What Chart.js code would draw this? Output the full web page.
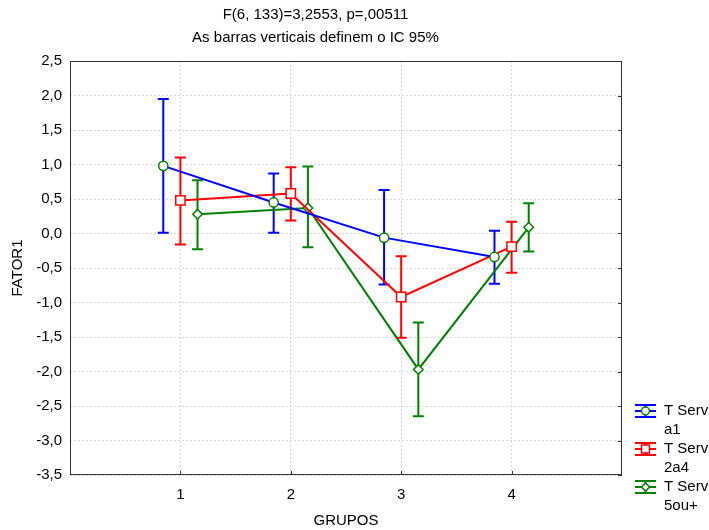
<!DOCTYPE html>
<html>
<head>
<meta charset="utf-8">
<script src="https://cdn.jsdelivr.net/npm/chart.js@4.4.1/dist/chart.umd.min.js"></script>
<style>
html, body { margin: 0; padding: 0; background: #fff; }
#wrap { width: 709px; height: 530px; }
</style>
</head>
<body>
<div id="wrap"><canvas id="grafico"></canvas></div>
<script>
const grupos = [1, 2, 3, 4];
const rotulos = [['T Serv', 'a1'], ['T Serv', '2a4'], ['T Serv', '5ou+']];

const mediaA1 = [0.98, 0.45, -0.06, -0.34];
const infA1 = [0.01, 0.01, -0.74, -0.73];
const supA1 = [1.95, 0.87, 0.63, 0.04];

const media2a4 = [0.48, 0.58, -0.92, -0.19];
const inf2a4 = [-0.16, 0.19, -1.51, -0.57];
const sup2a4 = [1.10, 0.96, -0.33, 0.17];

const media5ou = [0.28, 0.37, -1.97, 0.09];
const inf5ou = [-0.23, -0.20, -2.65, -0.26];
const sup5ou = [0.77, 0.97, -1.29, 0.44];

const yTicks = [-3.5, -3.0, -2.5, -2.0, -1.5, -1.0, -0.5, 0.0, 0.5, 1.0, 1.5, 2.0, 2.5];

const FONTE = '"Liberation Sans", Arial, sans-serif';
const VERDE = '#008000';

function montar(medias, desloc) {
    return medias.map((v, i) => ({ x: grupos[i] + desloc, y: v }));
}

const data = {
    datasets: [
        {
            label: 'T Serv a1',
            data: montar(mediaA1, -0.155),
            inf: infA1, sup: supA1,
            borderColor: '#0000ff',
            backgroundColor: '#ffffff',
            pointStyle: 'circle',
            pointRadius: 4.6,
            pointBorderColor: VERDE,
            pointBorderWidth: 1.5,
        },
        {
            label: 'T Serv 2a4',
            data: montar(media2a4, 0),
            inf: inf2a4, sup: sup2a4,
            borderColor: '#ff0000',
            backgroundColor: '#ffffff',
            pointStyle: 'rect',
            pointRadius: 6.6,
            pointBorderColor: '#ff0000',
            pointBorderWidth: 1.5,
        },
        {
            label: 'T Serv 5ou+',
            data: montar(media5ou, 0.155),
            inf: inf5ou, sup: sup5ou,
            borderColor: VERDE,
            backgroundColor: '#ffffff',
            pointStyle: 'rectRot',
            pointRadius: 4.8,
            pointBorderColor: VERDE,
            pointBorderWidth: 1.5,
        },
    ]
};

// barras verticais (IC 95%)
const barrasErro = {
    id: 'barrasErro',
    beforeDatasetsDraw(chart) {
        const ctx = chart.ctx;
        const sx = chart.scales.x, sy = chart.scales.y;
        chart.data.datasets.forEach((ds) => {
            ctx.save();
            ctx.strokeStyle = ds.borderColor;
            ctx.lineWidth = 2;
            ds.data.forEach((p, i) => {
                const x = sx.getPixelForValue(p.x);
                const y1 = sy.getPixelForValue(ds.sup[i]);
                const y2 = sy.getPixelForValue(ds.inf[i]);
                ctx.beginPath();
                ctx.moveTo(x, y1); ctx.lineTo(x, y2);
                ctx.moveTo(x - 5.5, y1); ctx.lineTo(x + 5.5, y1);
                ctx.moveTo(x - 5.5, y2); ctx.lineTo(x + 5.5, y2);
                ctx.stroke();
            });
            ctx.restore();
        });
    }
};

// moldura, marcas internas e legenda
const moldura = {
    id: 'moldura',
    afterDraw(chart) {
        const ctx = chart.ctx;
        const a = chart.chartArea;
        const sx = chart.scales.x, sy = chart.scales.y;
        ctx.save();
        ctx.strokeStyle = '#333';
        ctx.lineWidth = 1;
        ctx.strokeRect(a.left + 0.5, a.top + 0.5, a.right - a.left - 1, a.bottom - a.top - 1);
        ctx.beginPath();
        grupos.forEach((g) => {
            const x = Math.round(sx.getPixelForValue(g)) + 0.5;
            ctx.moveTo(x, a.bottom); ctx.lineTo(x, a.bottom - 4);
        });
        yTicks.forEach((t) => {
            const y = Math.round(sy.getPixelForValue(t)) + 0.5;
            ctx.moveTo(a.right, y); ctx.lineTo(a.right - 4, y);
        });
        ctx.stroke();

        ctx.font = '15px ' + FONTE;
        ctx.textBaseline = 'middle';
        ctx.fillStyle = '#000';
        chart.data.datasets.forEach((ds, i) => {
            const cy = 411 + i * 38;
            const x0 = 635, x1 = 656, cx = 645.5;
            ctx.strokeStyle = ds.borderColor;
            ctx.lineWidth = 2;
            ctx.beginPath();
            ctx.moveTo(x0, cy - 6); ctx.lineTo(x1, cy - 6);
            ctx.moveTo(x0, cy); ctx.lineTo(x1, cy);
            ctx.moveTo(x0, cy + 6); ctx.lineTo(x1, cy + 6);
            ctx.moveTo(cx, cy - 6); ctx.lineTo(cx, cy + 6);
            ctx.stroke();
            ctx.fillStyle = '#fff';
            ctx.strokeStyle = ds.pointBorderColor;
            ctx.lineWidth = 1.5;
            Chart.helpers.drawPoint(ctx, {
                pointStyle: ds.pointStyle,
                radius: ds.pointRadius * 0.85,
                borderWidth: 1.5,
                rotation: 0
            }, cx, cy);
            ctx.fillStyle = '#000';
            ctx.fillText(rotulos[i][0], 664, cy);
            ctx.fillText(rotulos[i][1], 664, cy + 19);
        });
        ctx.restore();
    }
};

const config = {
    type: 'line',
    data: data,
    plugins: [barrasErro, moldura],
    options: {
        responsive: true,
        maintainAspectRatio: false,
        animation: false,
        layout: { padding: { left: 9, right: 87, top: 0, bottom: 0 } },
        elements: { line: { borderWidth: 2, tension: 0 } },
        plugins: {
            legend: { display: false },
            tooltip: { enabled: false },
            title: {
                display: true,
                text: ['F(6, 133)=3,2553, p=,00511', 'As barras verticais definem o IC 95%'],
                color: '#000',
                font: { family: FONTE, size: 15, weight: 'normal', lineHeight: 1.5 },
                padding: { top: 4, bottom: 12 }
            }
        },
        scales: {
            x: {
                type: 'linear',
                min: 0,
                max: 5,
                afterBuildTicks(s) { s.ticks = grupos.map((g) => ({ value: g })); },
                afterFit(s) { s.height = 55; },
                ticks: {
                    color: '#000',
                    padding: 11,
                    font: { family: FONTE, size: 15 },
                    callback: (v) => String(v)
                },
                grid: { color: '#d9d9d9', drawTicks: false },
                border: { display: false, dash: [2, 2] },
                title: {
                    display: true,
                    text: 'GRUPOS',
                    color: '#000',
                    font: { family: FONTE, size: 15 },
                    padding: { top: 6, bottom: 0 }
                }
            },
            y: {
                type: 'linear',
                min: -3.5,
                max: 2.5,
                afterBuildTicks(s) { s.ticks = yTicks.map((t) => ({ value: t })); },
                afterFit(s) { s.width = 61; },
                ticks: {
                    color: '#000',
                    padding: 8,
                    font: { family: FONTE, size: 15 },
                    callback: (v) => v.toFixed(1).replace('.', ',')
                },
                grid: { color: '#d9d9d9', drawTicks: false },
                border: { display: false, dash: [2, 2] },
                title: {
                    display: true,
                    text: 'FATOR1',
                    color: '#000',
                    font: { family: FONTE, size: 15 },
                    padding: { top: 0, bottom: 0 }
                }
            }
        }
    }
};

new Chart(document.getElementById('grafico'), config);
</script>
</body>
</html>
